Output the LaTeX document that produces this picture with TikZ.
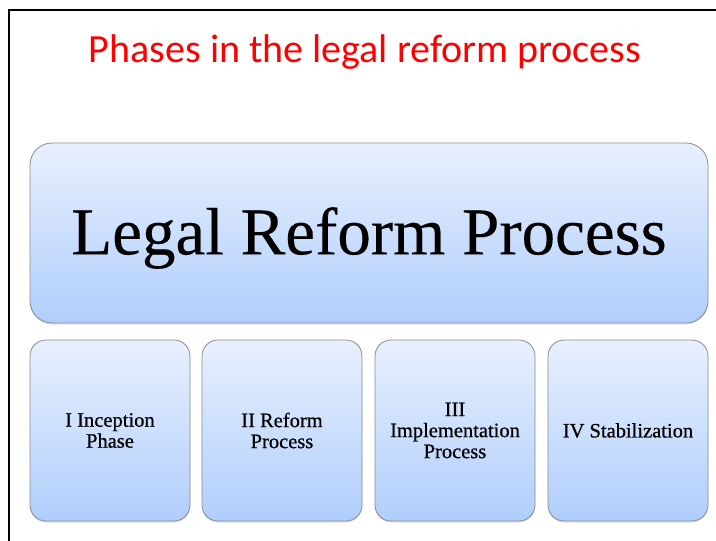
\documentclass[tikz,border=0pt]{standalone}
\usepackage{fontspec}
\setmainfont{Liberation Serif}
\newfontfamily\titlefont{Carlito}
\newfontfamily\labelfont[FakeBold=0.6]{Liberation Serif}
\newfontfamily\headfont[FakeBold=0.25]{Liberation Serif}
\usetikzlibrary{shadows}
\definecolor{titlered}{RGB}{255,0,0}
\definecolor{boxtop}{RGB}{232,240,254}
\definecolor{boxbottom}{RGB}{176,206,252}
\definecolor{boxedge}{RGB}{140,140,140}
\tikzset{
  phasebox/.style={
    rounded corners=16pt, draw=boxedge, line width=0.8pt,
    top color=boxtop, bottom color=boxbottom,
    drop shadow={shadow xshift=0pt, shadow yshift=-1.5pt, opacity=0.25},
    inner sep=0pt, align=center, text=black
  },
  smallbox/.style={phasebox, minimum width=160pt, minimum height=181pt,
    font=\labelfont\fontsize{20.5}{21}\selectfont},
  bigbox/.style={phasebox, rounded corners=22pt, minimum width=678pt, minimum height=180pt}
}
\begin{document}
\begin{tikzpicture}[x=1pt, y=-1pt]
  \useasboundingbox[fill=white] (0,0) rectangle (716,541);
  % page frame
  \draw[line width=2.5pt] (9,541) -- (9,10) -- (716,10);
  % heading
  \node[text=titlered, font=\titlefont\fontsize{40}{44}\selectfont] (title) at (365,52) {Phases in the legal reform process};
  % main box
  \node[bigbox] (main) at (369,233) {};
  \node[font=\headfont\fontsize{67}{70}\selectfont] (mainlabel) at (main.center) [yshift=-5pt] {Legal Reform Process};
  % four phases
  \node[smallbox] (p1) at (110,430.5) {I Inception\\Phase};
  \node[smallbox] (p2) at (282,430.5) {II Reform\\Process};
  \node[smallbox] (p3) at (455,430.5) {III\\Implementation\\Process};
  \node[smallbox] (p4) at (628,430.5) {IV Stabilization};
\end{tikzpicture}
\end{document}
